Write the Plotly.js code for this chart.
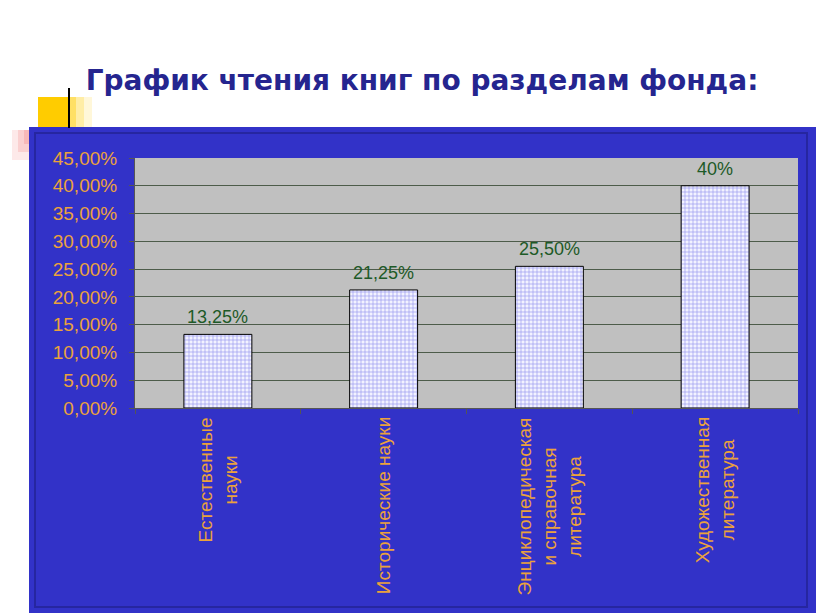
<!DOCTYPE html>
<html>
<head>
<meta charset="utf-8">
<script src="https://cdn.plot.ly/plotly-3.0.1.min.js"></script>
<style>
  html, body { margin: 0; padding: 0; background: #ffffff; }
  #chart { width: 816px; height: 613px; }
</style>
</head>
<body>
<div id="chart"></div>
<script>
// data
const categories = [
  'Естественные<br>науки',
  'Исторические науки',
  'Энциклопедическая<br>и справочная<br>литература',
  'Художественная<br>литература'
];
const shares = [0.1325, 0.2125, 0.255, 0.40];
const shareLabels = ['13,25%', '21,25%', '25,50%', '40%'];
const yTickVals = [0, 0.05, 0.10, 0.15, 0.20, 0.25, 0.30, 0.35, 0.40, 0.45];
const yTickText = ['0,00%', '5,00%', '10,00%', '15,00%', '20,00%', '25,00%', '30,00%', '35,00%', '40,00%', '45,00%'];

// plot area in pixels: x 135..798, y 158..408
const L = 135, R = 798, T = 158, B = 408;
const px = (x) => (x - L) / (R - L);
const py = (y) => (B - y) / (B - T);

const orange = '#eba23c';
const font = 'Liberation Sans, Arial, sans-serif';

const trace = {
  type: 'bar',
  x: categories,
  y: shares,
  width: 0.41,
  marker: {
    color: '#ffffff',
    line: { color: '#000000', width: 1 },
    pattern: { shape: '+', fgcolor: '#9595ee', bgcolor: '#f2f2ff', size: 4, solidity: 0.3 }
  },
  hoverinfo: 'skip'
};

const rect = (x0, y0, x1, y1, fill, line) => ({
  type: 'rect', xref: 'paper', yref: 'paper', layer: 'below',
  x0: px(x0), x1: px(x1), y0: py(y0), y1: py(y1),
  fillcolor: fill,
  line: line || { width: 0 }
});

const shapes = [
  // slide decorations: soft pink and yellow fades
  rect(12, 130, 30, 160, 'rgba(240,110,110,0.15)'),
  rect(18, 130, 30, 152, 'rgba(240,110,110,0.2)'),
  rect(24, 130, 30, 144, 'rgba(240,110,110,0.25)'),
  rect(38, 97, 68, 127, '#ffcc00'),
  rect(68, 97, 76, 127, 'rgba(255,204,0,0.6)'),
  rect(76, 97, 84, 127, 'rgba(255,204,0,0.35)'),
  rect(84, 97, 92, 127, 'rgba(255,204,0,0.15)'),
  // blue frame
  rect(29, 127, 816, 613, '#3232c8'),
  rect(35, 133, 807, 607, 'rgba(0,0,0,0)', { color: '#2626a0', width: 2 }),
  // gray plot area
  rect(L, T, R, B, '#c0c0c0'),
  {
    type: 'line', xref: 'paper', yref: 'paper', layer: 'above',
    x0: px(69), x1: px(69), y0: py(88), y1: py(128),
    line: { color: '#000000', width: 2 }
  }
];

// value labels above the bars
const valueNotes = categories.map((c, i) => ({
  x: c, y: shares[i], xref: 'x', yref: 'y',
  text: shareLabels[i], showarrow: false,
  yanchor: 'bottom', yshift: 5,
  font: { family: font, size: 18, color: '#1d5a27' }
}));

// rotated category labels, lines centred like the original
const catNotes = categories.map((c) => ({
  x: c, y: py(415), xref: 'x', yref: 'paper',
  text: c, showarrow: false, textangle: -90,
  xanchor: 'center', yanchor: 'top', align: 'center',
  font: { family: font, size: 19, color: orange }
}));

const layout = {
  width: 816,
  height: 613,
  margin: { l: L, r: 816 - R, t: T, b: 613 - B },
  paper_bgcolor: '#ffffff',
  plot_bgcolor: 'rgba(0,0,0,0)',
  showlegend: false,
  title: {
    text: 'График чтения книг по разделам фонда:',
    font: { family: 'DejaVu Sans, sans-serif', size: 28, color: '#25258f', weight: 'bold' },
    xref: 'container', yref: 'container',
    x: 422 / 816, xanchor: 'center',
    y: 1 - 80 / 613, yanchor: 'middle'
  },
  xaxis: {
    type: 'category',
    showticklabels: false,
    showline: true,
    linecolor: '#555555',
    linewidth: 1,
    ticks: 'outside',
    tickson: 'boundaries',
    ticklen: 5,
    tickcolor: '#555555',
    showgrid: false,
    fixedrange: true
  },
  yaxis: {
    range: [0, 0.45],
    tickvals: yTickVals,
    ticktext: yTickText,
    tickfont: { family: font, size: 19, color: orange },
    ticklabelstandoff: 8,
    showline: true,
    linecolor: '#555555',
    linewidth: 1,
    ticks: 'outside',
    ticklen: 5,
    tickcolor: '#555555',
    showgrid: true,
    gridcolor: '#4d5c4a',
    gridwidth: 1,
    zeroline: false,
    fixedrange: true
  },
  shapes: shapes,
  annotations: valueNotes.concat(catNotes)
};

Plotly.newPlot('chart', [trace], layout, { displayModeBar: false, staticPlot: true });
</script>
</body>
</html>
